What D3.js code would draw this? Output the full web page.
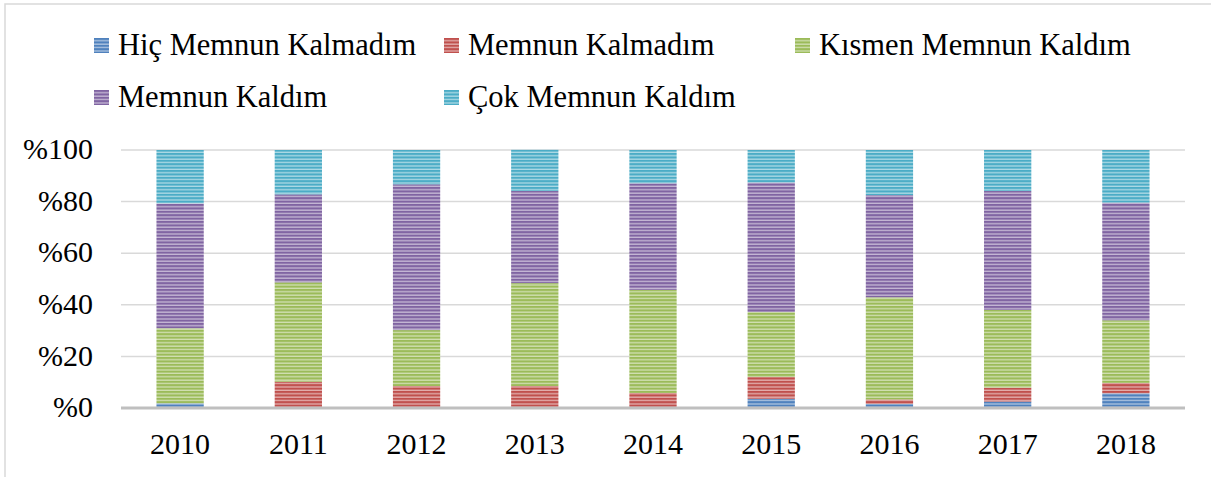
<!DOCTYPE html>
<html>
<head>
<meta charset="utf-8">
<script src="https://cdn.jsdelivr.net/npm/d3@7/dist/d3.min.js"></script>
<style>
  body { margin: 0; background: #fff; }
  text { font-family: "Liberation Serif", "DejaVu Serif", serif; fill: #000; }
</style>
</head>
<body>
<svg id="svg" width="1211" height="477"></svg>
<script>
// chart values (percent of each year)
let years = ['2010', '2011', '2012', '2013', '2014', '2015', '2016', '2017', '2018'];
let seriesNames = ['Hiç Memnun Kalmadım', 'Memnun Kalmadım', 'Kısmen Memnun Kaldım', 'Memnun Kaldım', 'Çok Memnun Kaldım'];
let hicMemnunKalmadim = [1.8, 0, 0, 0.4, 0.3, 3.6, 1.6, 2.5, 5.7];
let memnunKalmadim = [0, 10.2, 8.5, 8.1, 5.5, 8.4, 1.7, 5.4, 4.0];
let kismenMemnun = [29.1, 38.5, 21.7, 39.9, 40.0, 25.2, 39.6, 30.1, 24.3];
let memnunKaldim = [48.4, 34.1, 56.5, 35.7, 41.3, 50.2, 39.6, 46.1, 45.6];
let cokMemnun = [20.7, 17.2, 13.3, 16.0, 12.9, 12.6, 17.5, 15.9, 20.4];
let yTicks = [0, 20, 40, 60, 80, 100];

let colors = ['#4f81bd', '#c0504d', '#9bbb59', '#8064a2', '#4bacc6'];
let allSeries = [hicMemnunKalmadim, memnunKalmadim, kismenMemnun, memnunKaldim, cokMemnun];

let svg = d3.select('#svg');

// outer frame of the chart area
svg.append('rect')
    .attr('x', 5).attr('y', 4)
    .attr('width', 1240).attr('height', 500)
    .attr('fill', 'none')
    .attr('stroke', '#d9d9d9')
    .attr('stroke-width', 1.5);

// striped fills, one per series
let defs = svg.append('defs');
colors.forEach((c, i) => {
    let p = defs.append('pattern')
        .attr('id', 'stripe' + i)
        .attr('patternUnits', 'userSpaceOnUse')
        .attr('width', 8).attr('height', 3.4);
    p.append('rect').attr('width', 8).attr('height', 3.4)
        .attr('fill', d3.interpolateRgb(c, '#ffffff')(0.55));
    p.append('rect').attr('width', 8).attr('height', 2.1)
        .attr('fill', c);
});

// table for the stack
let table = years.map((y, i) => {
    let row = { year: y };
    seriesNames.forEach((s, j) => { row[s] = allSeries[j][i]; });
    return row;
});
let stacked = d3.stack().keys(seriesNames)(table);

let xScale = d3.scaleBand()
    .domain(years)
    .range([121, 1185])
    .paddingInner(0.6)
    .paddingOuter(0.3);

let yScale = d3.scaleLinear()
    .domain([0, 100])
    .range([408, 150]);

// gridlines
svg.append('g')
    .selectAll('line')
    .data(yTicks.filter(d => d > 0))
    .join('line')
    .attr('x1', 121).attr('x2', 1185)
    .attr('y1', d => yScale(d)).attr('y2', d => yScale(d))
    .attr('stroke', '#d9d9d9')
    .attr('stroke-width', 1.5);

// y axis labels
let yAxis = d3.axisLeft(yScale)
    .tickValues(yTicks)
    .tickSize(0)
    .tickPadding(0)
    .tickFormat(d => '%' + d);
let yG = svg.append('g')
    .attr('transform', 'translate(93,0)')
    .call(yAxis);
yG.select('.domain').remove();
yG.selectAll('text')
    .attr('font-size', '30px')
    .attr('font-family', '"Liberation Serif", serif')
    .attr('dy', '0.29em');

// bars
svg.append('g')
    .selectAll('g')
    .data(stacked)
    .join('g')
    .attr('fill', (d, i) => 'url(#stripe' + i + ')')
    .selectAll('rect')
    .data(d => d)
    .join('rect')
    .attr('x', d => xScale(d.data.year))
    .attr('width', xScale.bandwidth())
    .attr('y', d => yScale(d[1]))
    .attr('height', d => yScale(d[0]) - yScale(d[1]));

// baseline
svg.append('line')
    .attr('x1', 121).attr('x2', 1185)
    .attr('y1', yScale(0)).attr('y2', yScale(0))
    .attr('stroke', '#bfbfbf')
    .attr('stroke-width', 3);

// x axis labels
let xAxis = d3.axisBottom(xScale).tickSize(0).tickPadding(0);
let xG = svg.append('g')
    .attr('transform', 'translate(0,454)')
    .call(xAxis);
xG.select('.domain').remove();
xG.selectAll('text')
    .attr('font-size', '30px')
    .attr('font-family', '"Liberation Serif", serif')
    .attr('dy', 0);

// legend
let legendPos = [
    { x: 94, y: 55 }, { x: 444, y: 55 }, { x: 795, y: 55 },
    { x: 94, y: 107 }, { x: 444, y: 107 }
];
let legend = svg.append('g')
    .selectAll('g')
    .data(seriesNames)
    .join('g')
    .attr('transform', (d, i) => 'translate(' + [legendPos[i].x, legendPos[i].y] + ')');

legend.append('rect')
    .attr('x', 0).attr('y', -17)
    .attr('width', 15).attr('height', 15)
    .attr('fill', (d, i) => 'url(#stripe' + i + ')');

legend.append('text')
    .attr('x', 24)
    .attr('y', 0)
    .attr('font-size', '30.5px')
    .text(d => d);
</script>
</body>
</html>
